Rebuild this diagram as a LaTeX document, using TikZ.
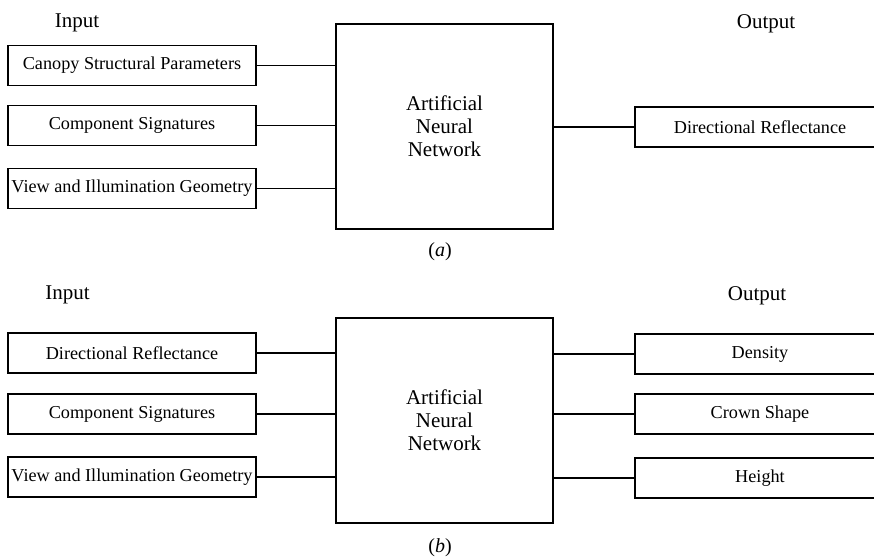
\documentclass[tikz,border=0pt]{standalone}
\usepackage{fontspec}
\setmainfont{Liberation Serif}
\begin{document}
\begin{tikzpicture}[x=1pt,y=-1pt, line width=1.5pt,
  inbox/.style={draw, minimum width=248pt, minimum height=40pt, inner sep=0pt, font=\fontsize{18.2}{20}\selectfont},
  outbox/.style={draw, minimum width=250pt, minimum height=40pt, inner sep=0pt, font=\fontsize{18.2}{20}\selectfont},
  ann/.style={draw, minimum width=217pt, minimum height=205pt, inner sep=0pt, align=center, font=\fontsize{21}{23}\selectfont},
  lbl/.style={font=\fontsize{21}{24}\selectfont, anchor=base, inner sep=0pt},
  captxt/.style={font=\fontsize{20}{24}\selectfont, anchor=base, inner sep=0pt},
  link/.style={line width=1.5pt}]
\useasboundingbox (0,0) rectangle (874,557);

% ---------- (a) ----------
\node[lbl] (inA) at (77,27.5) {Input};
\node[lbl] (outA) at (766,28) {Output};
\node[inbox] (a1) at (132,65.5) {Canopy Structural Parameters};
\node[inbox] (a2) at (132,125.5) {Component Signatures};
\node[inbox] (a3) at (132,188.5) {View and Illumination Geometry};
\node[ann] (annA) at (444.5,126.5) {Artificial\\Neural\\Network};
\node[outbox] (ao) at (760,127) {Directional Reflectance};
\draw[link] (a1.east) -- (a1.east -| annA.west);
\draw[link] (a2.east) -- (a2.east -| annA.west);
\draw[link] (a3.east) -- (a3.east -| annA.west);
\draw[link] (ao.west -| annA.east) -- (ao.west);
\node[captxt] (capA) at (440,256) {(\textit{a})};

% ---------- (b) ----------
\node[lbl] (inB) at (67.5,299) {Input};
\node[lbl] (outB) at (757,300.5) {Output};
\node[inbox] (b1) at (132,353) {Directional Reflectance};
\node[inbox] (b2) at (132,414) {Component Signatures};
\node[inbox] (b3) at (132,477) {View and Illumination Geometry};
\node[ann] (annB) at (444.5,420.5) {Artificial\\Neural\\Network};
\node[outbox] (bo1) at (760,354) {Density};
\node[outbox] (bo2) at (760,414) {Crown Shape};
\node[outbox] (bo3) at (760,478) {Height};
\draw[link] (b1.east) -- (b1.east -| annB.west);
\draw[link] (b2.east) -- (b2.east -| annB.west);
\draw[link] (b3.east) -- (b3.east -| annB.west);
\draw[link] (bo1.west -| annB.east) -- (bo1.west);
\draw[link] (bo2.west -| annB.east) -- (bo2.west);
\draw[link] (bo3.west -| annB.east) -- (bo3.west);
\node[captxt] (capB) at (440,552) {(\textit{b})};
\end{tikzpicture}
\end{document}
